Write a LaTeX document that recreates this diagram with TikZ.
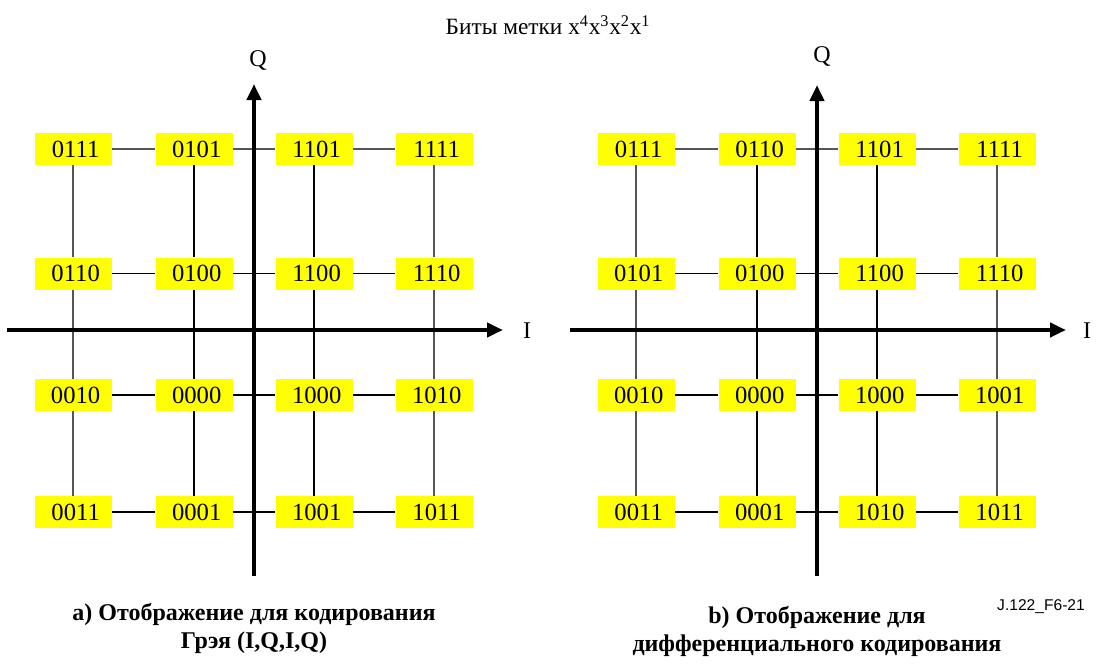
\documentclass[tikz,border=0pt]{standalone}
\usepackage{fontspec}
\setmainfont{Liberation Serif}
\newfontfamily\arialfont{Liberation Sans}
\usetikzlibrary{arrows.meta}
\definecolor{boxy}{RGB}{255,255,0}
\definecolor{lgray}{RGB}{85,85,85}
\tikzset{
  cell/.style={fill=boxy, minimum width=57.75pt, minimum height=24pt, inner sep=0pt,
    font=\fontsize{18.5}{20}\selectfont},
  axisline/.style={line width=3.2pt, -{Triangle[length=12pt,width=10.5pt]}},
  gline/.style={draw=lgray, line width=0.9pt},
  bline/.style={draw=black, line width=1.15pt},
  tline/.style={draw=black, line width=0.8pt},
  lbl/.style={font=\fontsize{18}{20}\selectfont, inner sep=0pt},
  captext/.style={font=\fontsize{18}{21}\selectfont\bfseries, align=center, inner sep=0pt},
}
\begin{document}
\begin{tikzpicture}[x=0.75pt, y=-0.75pt]
\useasboundingbox (0,0) rectangle (1096,664);
% title
\node[font=\fontsize{17.5}{20}\selectfont, inner sep=0pt] (title) at (548,25)
  {Биты метки x\textsuperscript{4}x\textsuperscript{3}x\textsuperscript{2}x\textsuperscript{1}};
% ---------- left constellation ----------
\foreach \lab/\x/\y/\n in {
  0111/73/149/L11, 0101/194/149/L12, 1101/314/149/L13, 1111/434/149/L14,
  0110/73/273.5/L21, 0100/194/273.5/L22, 1100/314/273.5/L23, 1110/434/273.5/L24,
  0010/73/395/L31, 0000/194/395/L32, 1000/314/395/L33, 1010/434/395/L34,
  0011/73/512/L41, 0001/194/512/L42, 1001/314/512/L43, 1011/434/512/L44}
  {\node[cell] (\n) at (\x,\y) {\hspace*{4pt}\lab};}
% ---------- right constellation ----------
\foreach \lab/\x/\y/\n in {
  0111/636/149/R11, 0110/757/149/R12, 1101/877/149/R13, 1111/997/149/R14,
  0101/636/273.5/R21, 0100/757/273.5/R22, 1100/877/273.5/R23, 1110/997/273.5/R24,
  0010/636/395/R31, 0000/757/395/R32, 1000/877/395/R33, 1001/997/395/R34,
  0011/636/512/R41, 0001/757/512/R42, 1010/877/512/R43, 1011/997/512/R44}
  {\node[cell] (\n) at (\x,\y) {\hspace*{4pt}\lab};}
% grid lines
\foreach \s in {L,R}{
  \draw[gline] (\s11) -- (\s12) -- (\s13) -- (\s14);
  \draw[bline] (\s21) -- (\s22) -- (\s23) -- (\s24);
  \draw[bline] (\s31) -- (\s32) -- (\s33) -- (\s34);
  \draw[tline] (\s41) -- (\s42) -- (\s43) -- (\s44);
  \draw[gline] (\s11) -- (\s21) -- (\s31) -- (\s41);
  \draw[bline] (\s12) -- (\s22) -- (\s32) -- (\s42);
  \draw[bline] (\s13) -- (\s23) -- (\s33) -- (\s43);
  \draw[gline] (\s14) -- (\s24) -- (\s34) -- (\s44);
}
% axes left
\coordinate (LQb) at (254,576);
\coordinate (LQt) at (254,84);
\coordinate (LIl) at (7,330);
\coordinate (LIr) at (503,330);
\draw[axisline] (LQb) -- (LQt);
\draw[axisline] (LIl) -- (LIr);
\node[lbl] (LQ) at (258,60) {Q};
\node[lbl] (LI) at (527,331) {I};
% axes right
\coordinate (RQb) at (817,576);
\coordinate (RQt) at (817,85);
\coordinate (RIl) at (570,330);
\coordinate (RIr) at (1066,330);
\draw[axisline] (RQb) -- (RQt);
\draw[axisline] (RIl) -- (RIr);
\node[lbl] (RQ) at (822,56) {Q};
\node[lbl] (RI) at (1087,331) {I};
% captions
\node[captext] (capa) at (254,628) {a) Отображение для кодирования\\Грэя (I,Q,I,Q)};
\node[captext] (capb) at (817,631) {b) Отображение для\\дифференциального кодирования};
\node[font=\arialfont\fontsize{11.7}{13}\selectfont, inner sep=0pt] (ref) at (1041,607) {J.122\_F6-21};
\end{tikzpicture}
\end{document}
